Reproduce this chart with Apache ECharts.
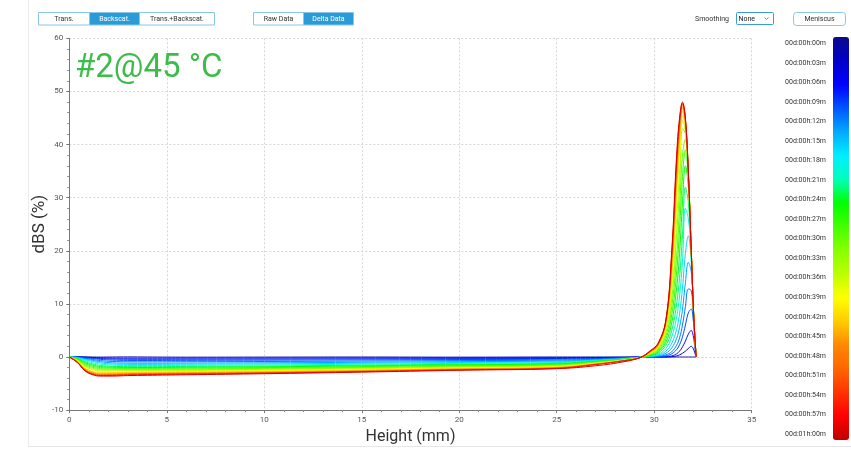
<!DOCTYPE html>
<html><head><meta charset="utf-8">
<script src="https://cdn.jsdelivr.net/npm/echarts@6/dist/echarts.min.js"></script>
<style>html,body{margin:0;padding:0;background:#fff}#c{width:851px;height:450px}</style>
</head><body><div id="c"></div>
<script>
// Height positions (mm) shared by every scan
const heights = [0, 0.4, 0.8, 1.2, 1.6, 2.2, 3, 4, 6, 10, 15, 20, 25, 27, 28.5, 29.3,
                 29.8, 30.2, 30.6, 30.9, 31.15, 31.3, 31.45, 31.6, 31.75, 31.9, 32.0, 32.08, 32.15];

// Scan times (legend labels)
const timeLabels = ['00d:00h:00m','00d:00h:03m','00d:00h:06m','00d:00h:09m','00d:00h:12m','00d:00h:15m',
  '00d:00h:18m','00d:00h:21m','00d:00h:24m','00d:00h:27m','00d:00h:30m','00d:00h:33m','00d:00h:36m',
  '00d:00h:39m','00d:00h:42m','00d:00h:45m','00d:00h:48m','00d:00h:51m','00d:00h:54m','00d:00h:57m','00d:01h:00m'];

const curveColors = ['#1a1aa8','#0000e4','#001cff','#004bff','#0077ff','#00a5ff','#00d8ff','#00fbcc',
  '#00ff68','#00ff00','#2aff00','#56ff00','#88ff00','#bbff00','#ffff00','#ffdf00','#ffb800','#ff8800',
  '#ff5700','#ff0f00','#d80000'];

// dBS (%) for each scan at the heights above
const dbs00 = [0, 0.05, 0.03, 0, -0.02, 0, 0.02, 0, -0.03, -0.02, 0, -0.03, 0, 0, 0, 0, 0, 0, 0, 0, 0, 0, 0, 0, 0, 0, 0, 0, 0];
const dbs03 = [0, 0, -0.05, -0.1, -0.15, -0.2, -0.22, -0.22, -0.21, -0.2, -0.18, -0.16, -0.14, -0.1, -0.05, 0, 0, 0, 0, 0.05, 0.2, 0.4, 0.7, 1.1, 1.6, 2.0, 1.6, 0.8, 0];
const dbs06 = [0, 0, -0.1, -0.2, -0.3, -0.38, -0.42, -0.43, -0.42, -0.4, -0.36, -0.32, -0.28, -0.2, -0.1, 0, 0, 0, 0.05, 0.2, 0.6, 1.1, 1.9, 3.0, 4.3, 5.0, 4.0, 2.0, 0];
const dbs09 = [0, -0.02, -0.15, -0.3, -0.45, -0.58, -0.64, -0.65, -0.63, -0.6, -0.55, -0.48, -0.42, -0.3, -0.15, -0.01, 0, 0.05, 0.2, 0.6, 1.4, 2.3, 3.8, 6.0, 8.3, 9.0, 7.0, 3.5, 0];
const dbs12 = [0, -0.05, -0.25, -0.48, -0.68, -0.84, -0.9, -0.91, -0.89, -0.85, -0.77, -0.68, -0.6, -0.42, -0.2, -0.02, 0, 0.1, 0.4, 1.0, 2.2, 3.6, 6.0, 9.5, 12.8, 12.5, 8.5, 4.0, 0];
const dbs15 = [0, -0.08, -0.35, -0.65, -0.9, -1.1, -1.17, -1.18, -1.15, -1.1, -1.0, -0.88, -0.77, -0.52, -0.25, -0.03, 0.05, 0.2, 0.7, 1.7, 3.5, 5.6, 9.0, 14, 17.8, 16, 9.5, 4.0, 0];
const dbs18 = [0, -0.12, -0.5, -0.85, -1.12, -1.32, -1.38, -1.39, -1.36, -1.3, -1.18, -1.04, -0.91, -0.62, -0.3, -0.04, 0.1, 0.35, 1.1, 2.6, 5.2, 8.2, 13, 19.5, 22.8, 18, 10, 4, 0];
const dbs21 = [0, -0.18, -0.68, -1.08, -1.35, -1.53, -1.6, -1.61, -1.57, -1.5, -1.36, -1.2, -1.05, -0.7, -0.34, -0.04, 0.15, 0.5, 1.6, 3.8, 7.5, 11.5, 18, 28, 26, 19, 10, 4, 0];
const dbs24 = [0, -0.25, -0.88, -1.32, -1.6, -1.76, -1.81, -1.82, -1.78, -1.7, -1.54, -1.36, -1.19, -0.79, -0.38, -0.05, 0.25, 0.7, 2.2, 5.0, 10, 15, 23, 32, 29, 19.5, 10, 4, 0];
const dbs27 = [0, -0.32, -1.05, -1.52, -1.8, -1.93, -1.97, -1.98, -1.94, -1.85, -1.68, -1.48, -1.29, -0.86, -0.42, -0.05, 0.3, 0.9, 2.8, 6.5, 13, 19.5, 29, 36, 32, 19.8, 10, 4, 0];
const dbs30 = [0, -0.4, -1.25, -1.75, -2.0, -2.1, -2.13, -2.14, -2.1, -2.0, -1.81, -1.6, -1.4, -0.93, -0.45, -0.06, 0.4, 1.1, 3.4, 8, 16, 24, 34, 39, 33, 20, 10, 4, 0];
const dbs33 = [0, -0.48, -1.45, -1.95, -2.2, -2.28, -2.29, -2.3, -2.26, -2.15, -1.95, -1.72, -1.5, -1.0, -0.49, -0.06, 0.5, 1.3, 4.0, 9.5, 19, 28, 38, 41, 33.5, 20, 10, 4, 0];
const dbs36 = [0, -0.55, -1.62, -2.15, -2.4, -2.45, -2.45, -2.45, -2.41, -2.3, -2.08, -1.83, -1.61, -1.07, -0.52, -0.07, 0.6, 1.5, 4.6, 11, 23, 32, 43, 42, 34, 20, 10, 4, 0];
const dbs39 = [0, -0.62, -1.8, -2.35, -2.6, -2.63, -2.61, -2.6, -2.56, -2.45, -2.22, -1.95, -1.71, -1.14, -0.55, -0.07, 0.7, 1.7, 5.1, 12.5, 26, 35, 44.5, 42.5, 34, 20, 10, 4, 0];
const dbs42 = [0, -0.7, -1.95, -2.55, -2.78, -2.79, -2.76, -2.74, -2.7, -2.58, -2.34, -2.05, -1.8, -1.2, -0.58, -0.08, 0.8, 1.9, 5.6, 14, 28.5, 38, 45.5, 43, 34.2, 20, 10, 4, 0];
const dbs45 = [0, -0.76, -2.1, -2.72, -2.95, -2.94, -2.9, -2.87, -2.82, -2.7, -2.45, -2.15, -1.89, -1.26, -0.61, -0.08, 0.85, 2.0, 6.0, 15.5, 31, 40, 46.3, 43.5, 34.3, 20, 10, 4, 0];
const dbs48 = [0, -0.82, -2.22, -2.86, -3.1, -3.08, -3.02, -2.98, -2.93, -2.8, -2.54, -2.23, -1.96, -1.3, -0.63, -0.09, 0.9, 2.2, 6.3, 16.8, 33, 41.5, 46.9, 43.8, 34.5, 20, 10, 4, 0];
const dbs51 = [0, -0.88, -2.34, -3.0, -3.24, -3.22, -3.14, -3.09, -3.04, -2.9, -2.63, -2.31, -2.03, -1.35, -0.65, -0.09, 1.0, 2.3, 6.6, 17.8, 34.8, 42.8, 47.3, 44.2, 34.6, 20, 10, 4, 0];
const dbs54 = [0, -0.92, -2.44, -3.12, -3.36, -3.34, -3.25, -3.18, -3.12, -2.98, -2.7, -2.37, -2.08, -1.38, -0.67, -0.1, 1.05, 2.4, 6.8, 18.6, 36, 43.8, 47.6, 44.5, 34.7, 20, 10, 4, 0];
const dbs57 = [0, -0.96, -2.52, -3.24, -3.48, -3.47, -3.37, -3.31, -3.23, -3.06, -2.77, -2.43, -2.14, -1.42, -0.68, -0.1, 1.1, 2.5, 6.9, 19.4, 37, 44.5, 47.8, 44.8, 34.8, 20, 10, 4, 0];
const dbs60 = [0, -1.0, -2.6, -3.35, -3.6, -3.6, -3.5, -3.45, -3.35, -3.15, -2.85, -2.5, -2.2, -1.65, -0.85, -0.05, 1.2, 2.6, 7.0, 20, 38, 45, 48, 45, 35, 20, 10, 4, 0];

const scans = [dbs00, dbs03, dbs06, dbs09, dbs12, dbs15, dbs18, dbs21, dbs24, dbs27, dbs30,
               dbs33, dbs36, dbs39, dbs42, dbs45, dbs48, dbs51, dbs54, dbs57, dbs60];

// Colour scale of the time legend
const scaleColors = ['#0a0a8a','#0000c8','#0000ff','#0055ff','#00aaff','#00eeff','#00ffbb','#00ff00',
  '#44ff00','#88ff00','#bbff00','#ffff00','#ffcc00','#ff8800','#ff6600','#ff3300','#ff0000','#c00000'];

const FONT = 'Roboto, "Noto Sans", Arial, sans-serif';

const series = scans.map((ys, k) => ({
  type: 'line', name: timeLabels[k], xAxisIndex: 0, yAxisIndex: 0,
  data: heights.map((h, i) => [h, ys[i]]),
  symbol: 'none', showSymbol: false, smooth: 0.4,
  lineStyle: { width: 1, color: curveColors[k] }, itemStyle: { color: curveColors[k] },
  silent: true, z: 2 + k / 100
}));
series.push({ type: 'scatter', xAxisIndex: 1, yAxisIndex: 1, data: [], silent: true });

// Toolbar
function button(x, w, label, active, y, h) {
  return [
    { type: 'rect', shape: { x: x, y: y, width: w, height: h },
      style: { fill: active ? '#2b9bd8' : '#fff', stroke: '#86c7ea', lineWidth: 1 }, silent: true },
    { type: 'text', x: x + w / 2, y: y + h / 2,
      style: { text: label, fontSize: 7, fontFamily: FONT, fill: active ? '#fff' : '#333', align: 'center', verticalAlign: 'middle' }, silent: true }
  ];
}
const toolbar = [].concat(
  button(38.5, 51, 'Trans.', false, 12.5, 12.5),
  button(89.5, 50, 'Backscat.', true, 12.5, 12.5),
  button(139.5, 75, 'Trans.+Backscat.', false, 12.5, 12.5),
  button(253.5, 50, 'Raw Data', false, 12.5, 12.5),
  button(303.5, 50, 'Delta Data', true, 12.5, 12.5),
  [
    { type: 'text', x: 695, y: 19, style: { text: 'Smoothing', fontSize: 7, fontFamily: FONT, fill: '#333', verticalAlign: 'middle' } },
    { type: 'rect', shape: { x: 736.5, y: 12.5, width: 37, height: 12, r: 1 }, style: { fill: '#fff', stroke: '#3d9ad8', lineWidth: 1 } },
    { type: 'text', x: 738.5, y: 19, style: { text: 'None', fontSize: 7, fontFamily: FONT, fill: '#222', verticalAlign: 'middle' } },
    { type: 'polyline', shape: { points: [[764.5, 17.5], [766.5, 19.5], [768.5, 17.5]] }, style: { stroke: '#5a8fd0', lineWidth: 1, fill: null } },
    { type: 'rect', shape: { x: 793.5, y: 12.5, width: 52, height: 13, r: 3 }, style: { fill: '#fff', stroke: '#86c7ea', lineWidth: 1 } },
    { type: 'text', x: 819.5, y: 19, style: { text: 'Meniscus', fontSize: 7, fontFamily: FONT, fill: '#333', align: 'center', verticalAlign: 'middle' } },
    { type: 'line', shape: { x1: 28.5, y1: 0, x2: 28.5, y2: 446 }, style: { stroke: '#ececec', lineWidth: 1 } },
    { type: 'line', shape: { x1: 28, y1: 446.5, x2: 851, y2: 446.5 }, style: { stroke: '#e6e6e6', lineWidth: 1 } },
    { type: 'text', x: 75, y: 52, style: { text: '#2@45 °C', fontSize: 33, fontFamily: FONT, fill: '#3dbb4b' }, z: 100 }
  ]
);

const chart = echarts.init(document.getElementById('c'), null, { renderer: 'canvas', width: 851, height: 450 });
chart.setOption({
  animation: false,
  backgroundColor: '#fff',
  textStyle: { fontFamily: FONT },
  grid: [
    { left: 69.3, right: 99.3, top: 38.3, bottom: 35.3, containLabel: false },
    { left: 830, top: 43.3, width: 2, height: 390.7, containLabel: false }
  ],
  xAxis: [
    { type: 'value', gridIndex: 0, min: 0, max: 35, interval: 5,
      name: 'Height (mm)', nameLocation: 'middle', nameGap: 16,
      nameTextStyle: { fontSize: 16, color: '#333', fontFamily: FONT },
      axisLine: { show: true, onZero: false, lineStyle: { color: '#777', width: 1 } },
      axisTick: { show: true, length: 3, lineStyle: { color: '#777' } },
      minorTick: { show: true, splitNumber: 5, length: 2, lineStyle: { color: '#888' } },
      axisLabel: { fontSize: 8, color: '#555', margin: 6 },
      splitLine: { show: true, lineStyle: { type: [2, 2], color: '#d6d6d6', width: 1 } } },
    { type: 'value', gridIndex: 1, show: false, min: 0, max: 1 }
  ],
  yAxis: [
    { type: 'value', gridIndex: 0, min: -10, max: 60, interval: 10,
      name: 'dBS (%)', nameLocation: 'middle', nameGap: 21, nameMoveOverlap: false,
      nameTextStyle: { fontSize: 17, color: '#333', fontFamily: FONT },
      axisLine: { show: true, lineStyle: { color: '#777', width: 1 } },
      axisTick: { show: true, length: 3, lineStyle: { color: '#777' } },
      minorTick: { show: true, splitNumber: 5, length: 2, lineStyle: { color: '#888' } },
      axisLabel: { fontSize: 8, color: '#555', margin: 6 },
      splitLine: { show: true, lineStyle: { type: [2, 2], color: '#d6d6d6', width: 1 } } },
    { type: 'category', gridIndex: 1, data: timeLabels, inverse: true, boundaryGap: false,
      axisLine: { show: false }, axisTick: { show: false }, splitLine: { show: false },
      axisLabel: { fontSize: 7, color: '#333', margin: 4, interval: 0 } }
  ],
  visualMap: {
    type: 'continuous', min: 0, max: 60, seriesIndex: series.length - 1,
    orient: 'vertical', inverse: true, left: 833, top: 37, padding: 0,
    itemWidth: 16, itemHeight: 403, text: ['', ''], showLabel: false, calculable: false,
    inRange: { color: scaleColors }
  },
  graphic: toolbar,
  series: series
});
</script>
</body></html>
